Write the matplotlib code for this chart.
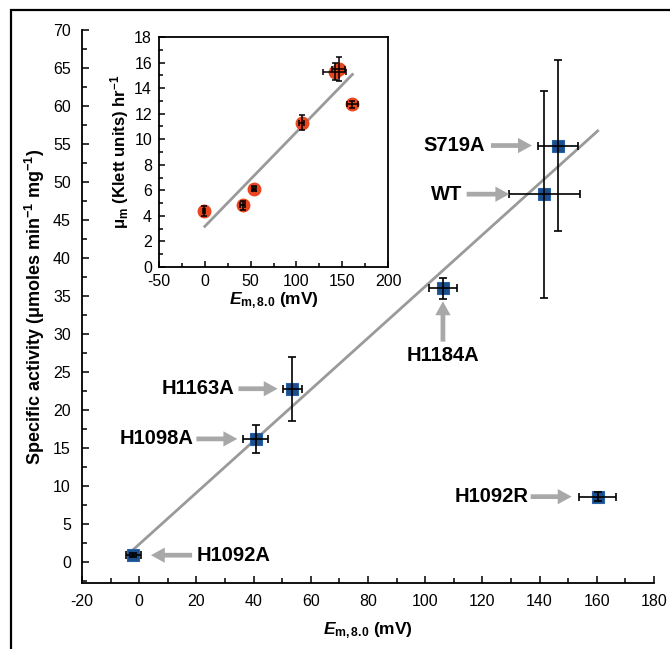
import numpy as np
import matplotlib
matplotlib.use("Agg")
from matplotlib import pyplot as plt
from matplotlib.patches import Rectangle
from matplotlib.ticker import MultipleLocator

plt.rcParams['font.family'] = ['Liberation Sans', 'DejaVu Sans']
plt.rcParams['axes.unicode_minus'] = False
plt.rcParams['mathtext.fontset'] = 'custom'
plt.rcParams['mathtext.rm'] = 'Liberation Sans'
plt.rcParams['mathtext.bf'] = 'Liberation Sans:bold'
plt.rcParams['mathtext.it'] = 'Liberation Sans:italic'
plt.rcParams['mathtext.bfit'] = 'Liberation Sans:italic:bold'

# main panel: specific activity vs midpoint potential
variants = ["H1092A", "H1098A", "H1163A", "H1184A", "WT", "S719A", "H1092R"]
em = [-2.0, 40.7, 53.6, 106.2, 141.7, 146.4, 160.3]
em_err = [2.6, 4.5, 3.2, 4.9, 12.3, 7.0, 6.5]
activity = [0.9, 16.2, 22.8, 36.0, 48.4, 54.8, 8.6]
activity_err = [0.3, 1.8, 4.2, 1.4, 13.6, 11.2, 0.6]

# inset: growth rate vs midpoint potential
inset_em = [-0.9, 41.2, 54.0, 105.8, 141.7, 146.4, 161.1]
inset_em_err = [1.5, 3.0, 2.0, 3.0, 12.3, 7.0, 6.3]
growth = [4.38, 4.83, 6.13, 11.3, 15.3, 15.5, 12.73]
growth_err = [0.4, 0.35, 0.2, 0.6, 0.7, 0.95, 0.3]

# label text position (data coords) and arrow tail/head (data coords)
label_text = {
    "H1092A": (20.0, 0.9, "left"),
    "H1098A": (19.0, 16.2, "right"),
    "H1163A": (33.4, 22.8, "right"),
    "H1184A": (106.2, 27.2, "center"),
    "WT": (113.0, 48.4, "right"),
    "S719A": (121.0, 54.8, "right"),
    "H1092R": (136.0, 8.6, "right"),
}
label_arrow = {
    "H1092A": ((18.5, 0.9), (4.1, 0.9)),
    "H1098A": ((20.0, 16.2), (34.3, 16.2)),
    "H1163A": ((34.7, 22.8), (48.4, 22.8)),
    "H1184A": ((106.2, 29.0), (106.2, 34.3)),
    "WT": ((114.5, 48.4), (129.4, 48.4)),
    "S719A": ((123.0, 54.8), (137.3, 54.8)),
    "H1092R": ((136.9, 8.6), (151.2, 8.6)),
}

blue = "#1c4f8c"
orange = "#e8461e"
grey = "#9a9a9a"
arrow_grey = "#a8a8a8"

fig = plt.figure(figsize=(6.7, 6.49), dpi=100)
ax = fig.add_axes([82 / 670, 66 / 649, 572 / 670, 553 / 649])

# fit through all but H1092R
fx = np.array(em[:-1])
fy = np.array(activity[:-1])
slope, icpt = np.polyfit(fx, fy, 1)
xl = np.array([min(em), max(em)])
ax.plot(xl, slope * xl + icpt, color=grey, lw=2, zorder=1)

# markers first, error bars drawn over them
ax.plot(em, activity, 's', ms=8.5, mfc=blue, mec="#2a62a8", mew=0.8, zorder=2)
ax.errorbar(em, activity, xerr=em_err, yerr=activity_err, fmt='none',
            ecolor='black', elinewidth=1.2, capsize=3, capthick=1.2, zorder=3)

for name in variants:
    tx, ty, ha = label_text[name]
    ax.text(tx, ty, name, ha=ha, va="center", fontsize=14.5, fontweight='bold')
    tail, head = label_arrow[name]
    ax.annotate("", xy=head, xytext=tail,
                arrowprops=dict(arrowstyle="simple,head_width=1.1,head_length=1.0,tail_width=0.34",
                                mutation_scale=10, fc=arrow_grey, ec='none',
                                shrinkA=0, shrinkB=0))

ax.set_xlim(-20, 180)
ax.set_ylim(-2.76, 70)
ax.xaxis.set_major_locator(MultipleLocator(20))
ax.xaxis.set_minor_locator(MultipleLocator(10))
ax.yaxis.set_major_locator(MultipleLocator(5))
ax.yaxis.set_minor_locator(MultipleLocator(2.5))
ax.spines['top'].set_visible(False)
ax.spines['right'].set_visible(False)
for s in ['left', 'bottom']:
    ax.spines[s].set_linewidth(1.3)
ax.tick_params(which='both', direction='in', labelsize=11.5, width=1.1)
ax.tick_params(which='major', length=5, pad=8)
ax.tick_params(which='minor', length=3.5)
ax.set_xlabel(r'$\mathbfit{E}_{\mathbf{m,8.0}}$ (mV)', fontsize=12.5, fontweight='bold', labelpad=8)
ax.set_ylabel(r'Specific activity (μmoles min$^{\mathbf{-1}}$ mg$^{\mathbf{-1}}$)',
              fontsize=13, fontweight='bold', labelpad=4)

# inset
ins = fig.add_axes([159 / 670, 382 / 649, 229 / 670, 230 / 649])
ix = np.array(inset_em)
iy = np.array(growth)
s2, b2 = np.polyfit(ix, iy, 1)
xl2 = np.array([0, max(inset_em)])
ins.plot(xl2, s2 * xl2 + b2, color=grey, lw=2, zorder=1)
ins.plot(inset_em, growth, 'o', ms=9, mfc=orange, mec=orange, zorder=2)
ins.errorbar(inset_em, growth, xerr=inset_em_err, yerr=growth_err, fmt='none',
             ecolor='black', elinewidth=1.1, capsize=2.5, capthick=1.1, zorder=3)
ins.set_xlim(-50, 200)
ins.set_ylim(0, 18)
ins.xaxis.set_major_locator(MultipleLocator(50))
ins.xaxis.set_minor_locator(MultipleLocator(25))
ins.yaxis.set_major_locator(MultipleLocator(2))
ins.yaxis.set_minor_locator(MultipleLocator(1))
for s in ins.spines.values():
    s.set_linewidth(1.3)
ins.tick_params(which='both', direction='in', labelsize=11.5, width=1.1)
ins.tick_params(which='major', length=4, pad=5)
ins.tick_params(which='minor', length=3)
ins.set_xlabel(r'$\mathbfit{E}_{\mathbf{m,8.0}}$ (mV)', fontsize=12.5, fontweight='bold', labelpad=1)
ins.set_ylabel(r'μ$_{\mathbf{m}}$ (Klett units) hr$^{\mathbf{-1}}$', fontsize=12,
               fontweight='bold', labelpad=2)

# outer frame
fig.patches.append(Rectangle((11 / 670, -0.2), 1.2, 0.2 + 639 / 649, transform=fig.transFigure,
                             fill=False, lw=1.6, ec='black'))

fig.savefig("out.png", dpi=100)
